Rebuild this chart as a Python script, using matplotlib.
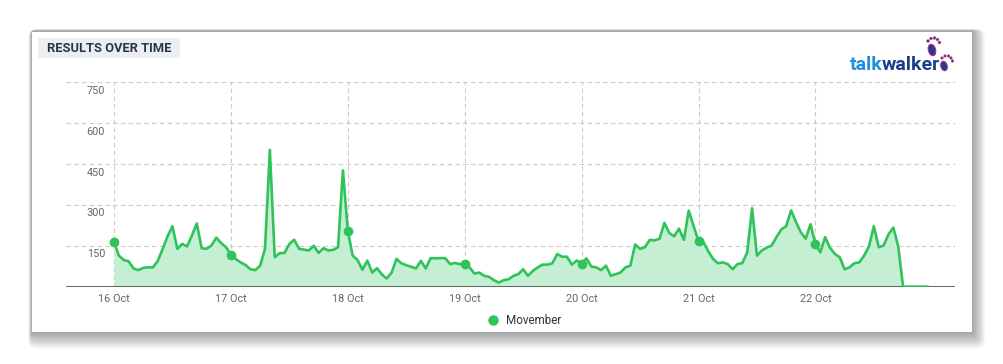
"""
Results over time (hourly mentions) - Movember, 16-22 Oct.
"""

import numpy as np
import matplotlib.pyplot as plt
from matplotlib.patches import Rectangle, FancyBboxPatch, Ellipse

plt.rcParams["font.family"] = ["Roboto", "DejaVu Sans"]

# =========================================================
# Data (hourly counts)
# =========================================================
DAY_LABELS = ["16 Oct", "17 Oct", "18 Oct", "19 Oct", "20 Oct", "21 Oct", "22 Oct"]

oct16 = [164, 114, 98, 93, 67, 61, 69, 71, 71, 95, 139, 185,
         222, 139, 157, 148, 188, 232, 141, 139, 151, 180, 160, 145]
oct17 = [118, 102, 89, 80, 64, 61, 77, 139, 502, 108, 123, 124,
         157, 172, 139, 136, 133, 150, 124, 141, 133, 135, 145, 427]
oct18 = [205, 114, 98, 62, 96, 52, 68, 45, 30, 52, 102, 86,
         79, 73, 67, 95, 67, 105, 104, 105, 105, 83, 87, 83]
oct19 = [85, 71, 48, 52, 40, 36, 24, 15, 24, 27, 40, 46,
         64, 40, 58, 71, 81, 81, 86, 120, 110, 110, 81, 96]
oct20 = [85, 104, 74, 71, 61, 77, 40, 46, 52, 71, 77, 155,
         139, 145, 172, 170, 176, 234, 197, 185, 213, 172, 279, 222]
oct21 = [168, 164, 130, 102, 86, 89, 83, 64, 83, 87, 126, 288,
         114, 133, 143, 151, 182, 210, 222, 280, 238, 200, 176, 229]
oct22 = [157, 126, 182, 143, 120, 108, 64, 71, 86, 89, 114, 148,
         222, 145, 151, 192, 217, 148, 0, 0, 0, 0, 0, 0]

SERIES_NAME = "Movember"
Y_TICKS = [150, 300, 450, 600, 750]

values = np.array(oct16 + oct17 + oct18 + oct19 + oct20 + oct21 + oct22, dtype=float)
hours = np.arange(len(values))
day_hours = np.arange(len(DAY_LABELS)) * 24

# =========================================================
# Style
# =========================================================
W, H = 1004, 364
LINE = "#2fc35a"
FILL = "#c4efd3"
GRID = "#c9c9c9"
TXT = "#666666"
NAVY = "#27344f"

fig = plt.figure(figsize=(W / 100, H / 100), dpi=100)
fig.patch.set_facecolor("white")

# ----- Background: card + soft shadow (pixel coords) -----
bg = fig.add_axes([0, 0, 1, 1], zorder=0)
bg.set_xlim(0, W)
bg.set_ylim(H, 0)
bg.axis("off")

for g in range(14, 0, -1):
    bg.add_patch(FancyBboxPatch((32 - g * 0.25, 31 - g * 0.15), 940 + g * 1.2, 301 + g * 1.35,
                                boxstyle="round,pad=0,rounding_size=%d" % (2 + g // 2),
                                facecolor="#000000", alpha=0.028, edgecolor="none"))
bg.add_patch(Rectangle((32, 32), 940, 300, facecolor="white", edgecolor="none"))

# title chip
bg.add_patch(Rectangle((38, 38), 142, 20, facecolor="#eceef1", edgecolor="none"))
bg.text(47, 48.5, "RESULTS OVER TIME", fontsize=9.3, fontweight="bold",
        color=NAVY, va="center", ha="left")

# talkwalker logo
bg.text(850, 70, "talk", fontsize=14, fontweight="bold", color="#1f8fe0",
        va="baseline", ha="left")
bg.text(882, 70, "walker", fontsize=14, fontweight="bold", color="#1c3d8c",
        va="baseline", ha="left")
# feet
bg.add_patch(Ellipse((932, 50), 7.5, 12, angle=-15, facecolor="#1c3d8c", edgecolor="#e0227a", lw=0.6))
bg.add_patch(Ellipse((944, 66), 6.5, 10, angle=-15, facecolor="#1c3d8c", edgecolor="#e0227a", lw=0.6))
for (tx, ty) in [(928, 41), (931, 38.5), (934.5, 38), (937.5, 39.5), (939.5, 42.5)]:
    bg.add_patch(Ellipse((tx, ty), 2.6, 2.6, facecolor="#1c3d8c", edgecolor="#e0227a", lw=0.4))
for (tx, ty) in [(942, 58), (945, 56), (948.5, 56), (951, 58), (952.5, 61)]:
    bg.add_patch(Ellipse((tx, ty), 2.4, 2.4, facecolor="#1c3d8c", edgecolor="#e0227a", lw=0.4))

# legend
bg.plot([493], [320], "o", color=LINE, markersize=6.5)
bg.text(506, 320.5, SERIES_NAME, fontsize=8.4, color="#333333", va="center", ha="left")

# =========================================================
# Main chart
# =========================================================
px_left, px_right = 66, 955
px_top, px_base = 82.3, 286.7
ax = fig.add_axes([px_left / W, 1 - px_base / H,
                   (px_right - px_left) / W, (px_base - px_top) / H], zorder=1)
ax.set_facecolor("none")

per_day = 116.9
x0 = -(114 - px_left) / per_day * 24
x1 = (px_right - 114) / per_day * 24
ax.set_xlim(x0, x1)
ax.set_ylim(0, 750)

for v in Y_TICKS:
    ax.axhline(v, color=GRID, linewidth=0.8, linestyle=(0, (4, 3)), zorder=0)
for d in day_hours:
    ax.axvline(d, color=GRID, linewidth=0.8, linestyle=(0, (4, 3)), zorder=0)

ax.fill_between(hours, values, 0, color=FILL, linewidth=0, zorder=1)
ax.plot(hours, values, color=LINE, linewidth=1.9, solid_joinstyle="round", zorder=2)
ax.plot(day_hours, values[day_hours], "o", color=LINE, markersize=6, zorder=3)

ax.axhline(0, color="#5a5a5a", linewidth=1.3, zorder=4)
ax.plot(hours[-6:], values[-6:], color=LINE, linewidth=1.9, zorder=5)

for s in ax.spines.values():
    s.set_visible(False)
ax.set_xticks([])
ax.set_yticks([])

# y labels sit just under their grid lines, inside the plot area
ytr = ax.get_yaxis_transform()
for v in Y_TICKS:
    ax.annotate(str(v), xy=(0, v), xycoords=ytr, xytext=(39, -8.5),
                textcoords="offset pixels", ha="right", va="center",
                fontsize=7.8, color=TXT)

xtr = ax.get_xaxis_transform()
for d, lab in zip(day_hours, DAY_LABELS):
    ax.annotate(lab, xy=(d, 0), xycoords=xtr, xytext=(0, -12),
                textcoords="offset pixels", ha="center", va="center",
                fontsize=7.8, color=TXT)

plt.savefig("out.png", dpi=100)
